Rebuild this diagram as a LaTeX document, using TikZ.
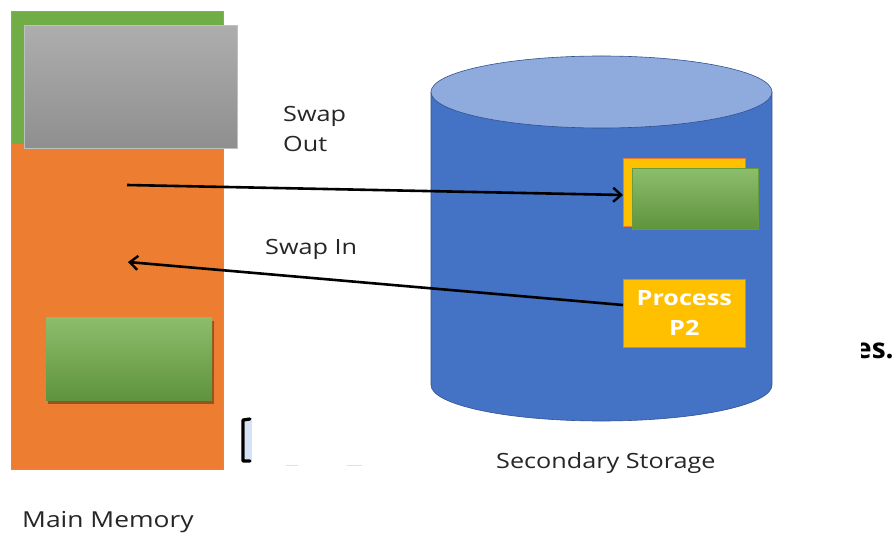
\documentclass[tikz,border=0pt]{standalone}
\usepackage{fontspec}
\setmainfont{Open Sans}[FakeStretch=1.2]
\newfontfamily\plainos{Open Sans}
\usetikzlibrary{shadows,shapes.geometric,arrows.meta}
\definecolor{memorange}{HTML}{ED7D31}
\definecolor{memgreen}{HTML}{70AD47}
\definecolor{diskblue}{HTML}{4472C4}
\definecolor{disktop}{HTML}{8FAADC}
\definecolor{diskline}{HTML}{2F528F}
\definecolor{gold}{HTML}{FFC000}
\definecolor{goldline}{HTML}{ED7D31}
\definecolor{ltblue}{HTML}{D6E2F5}
\begin{document}
\begin{tikzpicture}[x=1pt,y=-1pt,
  blk/.style={inner sep=0pt, anchor=north west},
  greenblk/.style={blk, top color=memgreen!80!white, bottom color=memgreen!85!black, draw=memgreen!90!black, line width=0.4pt},
  goldblk/.style={blk, fill=gold, draw=goldline, line width=0.6pt},
  lbl/.style={font=\fontsize{21}{24}\selectfont, text=black!85, inner sep=0pt, anchor=base west},
  arr/.style={line width=2.6pt, -{Straight Barb[length=8pt,width=14pt,line width=2.4pt]}}
]
\useasboundingbox (0,0) rectangle (893,534);
\fill[white] (0,0) rectangle (893,534);

% main memory
\node[blk, fill=memorange, minimum width=212pt, minimum height=458pt] (mem) at (11,11) {};
\node[blk, fill=memgreen, minimum width=212pt, minimum height=133pt] (memtop) at (11,11) {};
\draw[diskblue!70, line width=0.8pt] (mem.north west) rectangle (mem.south east);
\node[blk, top color=black!32, bottom color=black!44, draw=black!25, line width=0.8pt, minimum width=213pt, minimum height=123pt] (gray) at (24,25) {};
\node[greenblk, draw=none, minimum width=166pt, minimum height=83pt, drop shadow={shadow xshift=2pt, shadow yshift=-4pt, fill=black, opacity=0.35}] (p1) at (46,317) {};

% cylinder
\fill[diskblue] (431,92) rectangle (772,385);
\fill[diskblue] (601.5,385) ellipse [x radius=170.5pt, y radius=36pt];
\draw[diskline, line width=0.6pt] (431,92) -- (431,385) arc[start angle=180, end angle=360, x radius=170.5pt, y radius=36pt] -- (772,92);
\node[ellipse, fill=disktop, draw=diskline, line width=0.6pt, minimum width=341pt, minimum height=72pt, inner sep=0pt] (disk) at (601.5,92) {};

\node[goldblk, minimum width=122pt, minimum height=68pt] (sw) at (623,158) {};
\node[greenblk, minimum width=126pt, minimum height=61pt] (swg) at (632,168) {};
\node[goldblk, minimum width=122pt, minimum height=68pt, align=center, text=white, font=\bfseries\fontsize{21}{30}\selectfont] (p2) at (623,279) {Process\\P2};

% arrows
\coordinate (outstart) at (127,185);
\coordinate (inend) at (128,262);
\draw[arr] (outstart) -- (sw.west |- 0,195);
\draw[arr] (p2.west |- 0,305) -- (inend);

% labels
\node[lbl] (swapout) at (283,122) {Swap};
\node[lbl] (swapout2) at (283,152) {Out};
\node[lbl] (swapin) at (265,255) {Swap In};
\node[lbl] (sec) at (496,468) {Secondary Storage};
\node[lbl, font=\fontsize{22}{24}\selectfont] (mm) at (22,527) {Main Memory};

% stray fragments
\begin{scope}
\clip (861,320) rectangle (893,380);
\node[inner sep=0pt, anchor=base west, font=\plainos\bfseries\fontsize{28}{30}\selectfont] (es) at (855,358) {es.};
\end{scope}
\fill[ltblue] (245,420) rectangle (252,460);
\draw[black, line width=3.2pt, line cap=round, line join=round] (250,419) -- (243,420) -- (243,461) -- (250,461);
\draw[black!12, line width=1pt] (286,465) -- (298,465) (347,465) -- (362,465);
\end{tikzpicture}
\end{document}
